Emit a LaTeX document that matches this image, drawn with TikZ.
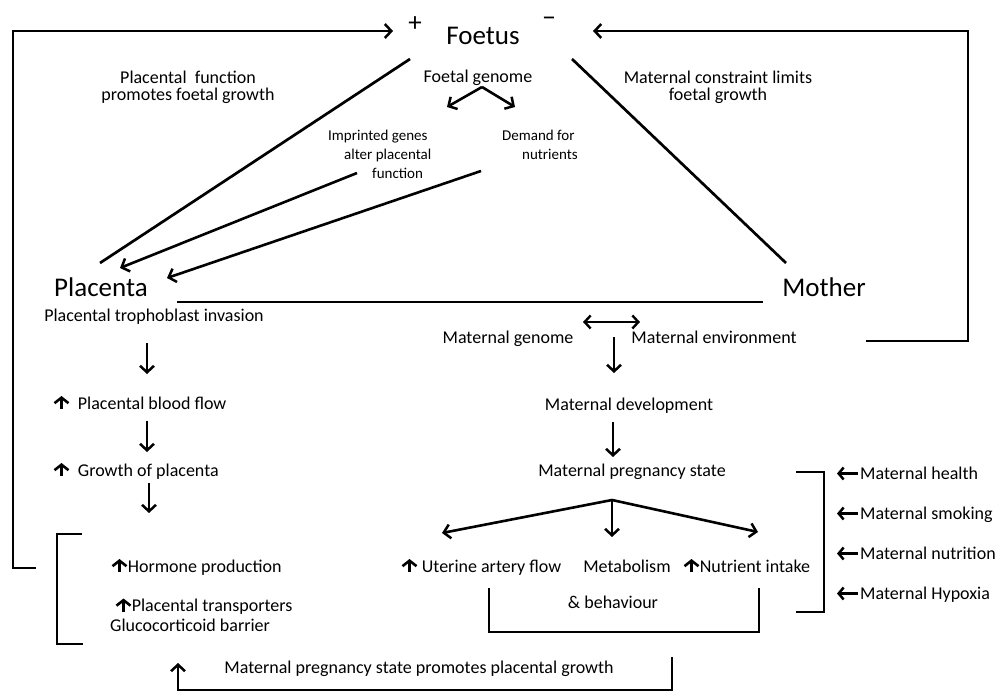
\documentclass[tikz,border=0pt]{standalone}
\usepackage{fontspec}
\setmainfont{Carlito}
\usetikzlibrary{arrows.meta,calc}
\newcommand{\upicon}{\tikz[x=1pt,y=1pt,baseline=0pt]\draw[line width=2.6pt,-{Straight Barb[length=5.5pt,width=14pt,line width=2.6pt]}](0,0)--(0,13);}
\begin{document}
\begin{tikzpicture}[x=1pt,y=-1pt,
  big/.style={font=\fontsize{27}{30}\selectfont, inner sep=0pt},
  med/.style={font=\fontsize{18}{17}\selectfont, inner sep=0pt, align=center},
  sml/.style={font=\fontsize{15}{19}\selectfont, inner sep=0pt, align=left},
  conn/.style={line width=2.7pt},
  arr/.style={line width=2.6pt,-{Straight Barb[length=6.5pt,width=14pt,line width=2.5pt]}},
  darr/.style={line width=2.4pt,{Straight Barb[length=6pt,width=13pt,line width=2.4pt]}-{Straight Barb[length=6pt,width=13pt,line width=2.4pt]}}
]
\useasboundingbox (0,0) rectangle (1000,692);
\fill[white] (0,0) rectangle (1000,692);

% main nodes
\node[big, anchor=base] (foetus) at (483,45) {Foetus};
\node[big] (plus) at (415,24) {+};
\node[big] (minus) at (549,22) {\textminus};
\node[big, anchor=base] (placenta) at (101,296) {Placenta};
\node[big, anchor=base] (mother) at (824,297) {Mother};

% labels top
\node[med] (pff) at (188,87) {Placental\ \ function\\promotes foetal growth};
\node[med] (mcl) at (718,87) {Maternal constraint limits\\foetal growth};
\node[med, anchor=base] (fg) at (478,83) {Foetal genome};
\node[sml, anchor=north west] (imp) at (328,130) {Imprinted genes\\\hspace*{16pt}alter placental\\\hspace*{44pt}function};
\node[sml, anchor=north west] (dem) at (502,130) {Demand for\\\hspace*{20pt}nutrients};

% placenta side
\node[med, anchor=base] (pti) at (154,321) {Placental trophoblast invasion};
\node[med, anchor=base west] (pbf) at (53,409) {\upicon\ \ Placental blood flow};
\node[med, anchor=base west] (gop) at (53,476) {\upicon\ \ Growth of placenta};
\node[med, anchor=base west] (hp) at (111,572) {\upicon Hormone production};
\node[med, anchor=north west, align=left, font=\fontsize{18}{20}\selectfont] (ptr) at (110,597) {\hspace*{5pt}\upicon Placental transporters\\Glucocorticoid barrier};

% mother side
\node[med, anchor=base] (mg) at (508,343) {Maternal genome};
\node[med, anchor=base] (me) at (714,343) {Maternal environment};
\node[med, anchor=base] (md) at (629,410) {Maternal development};
\node[med, anchor=base] (mps) at (632,476) {Maternal pregnancy state};
\node[med, anchor=base west] (uaf) at (401,572) {\upicon\ Uterine artery flow};
\node[med, anchor=base] (met) at (627,572) {Metabolism};
\node[med, anchor=base west] (ni) at (683,572) {\upicon Nutrient intake};
\node[med, anchor=base] (beh) at (613,608) {\&\ behaviour};

\node[med, anchor=base west] (fh) at (860,479) {Maternal health};
\node[med, anchor=base west] (fs) at (860,519) {Maternal smoking};
\node[med, anchor=base west] (fn) at (860,559) {Maternal nutrition};
\node[med, anchor=base west] (fx) at (860,599) {Maternal Hypoxia};

\node[med, anchor=base] (bot) at (419,673) {Maternal pregnancy state promotes placental growth};

% coordinates
\coordinate (lb1) at (36,568);
\coordinate (lc1) at (13,568);
\coordinate (lc2) at (13,31);
\coordinate (lt) at (393,31);
\coordinate (rb1) at (866,341);
\coordinate (rc1) at (968,341);
\coordinate (rc2) at (968,31);
\coordinate (rt) at (593,31);
\coordinate (fpl1) at (410,59);
\coordinate (fpl2) at (100,263);
\coordinate (fmo1) at (572,59);
\coordinate (fmo2) at (786,263);
\coordinate (pm1) at (177,302);
\coordinate (pm2) at (763,302);
\coordinate (fgapex) at (482,87);
\coordinate (fgl) at (447,107);
\coordinate (fgr) at (515,107);
\coordinate (imps) at (357,173);
\coordinate (impt) at (120,268);
\coordinate (dems) at (481,171);
\coordinate (demt) at (167,278);

% feedback loops
\draw[arr] (lb1) -- (lc1) -- (lc2) -- (lt);
\draw[arr] (rb1) -- (rc1) -- (rc2) -- (rt);

% triangle
\draw[conn] (fpl1) -- (fpl2);
\draw[conn] (fmo1) -- (fmo2);
\draw[conn] (pm1) -- (pm2);

% foetal genome branches
\draw[arr] (fgapex) -- (fgl);
\draw[arr] (fgapex) -- (fgr);
\draw[arr] (imps) -- (impt);
\draw[arr] (dems) -- (demt);

% placenta chain
\draw[arr] (147,343) -- (147,374);
\draw[arr] (147,421) -- (147,452);
\draw[arr] (149,483) -- (149,513);
\draw[conn] (82,534) -- (57,534) -- (57,644) -- (83,644);

% mother chain
\draw[darr] (583,322) -- (640,322);
\draw[arr] (614,337) -- (614,373);
\draw[arr] (613,422) -- (613,457);
\coordinate (mapex) at (612,500);
\draw[arr] (mapex) -- (442,533);
\draw[arr] (mapex) -- (612,537);
\draw[arr] (mapex) -- (758,532);
\draw[conn] (489,588) -- (489,632) -- (759,632) -- (759,588);
\draw[conn] (796,472) -- (824,472) -- (824,612) -- (796,612);

% factor arrows
\foreach \n in {fh,fs,fn,fx}{
  \draw[line width=2.6pt,-{Straight Barb[length=5pt,width=12pt,line width=2.5pt]}] ($(\n.base west)+(-2,-5.5)$) -- ($(\n.base west)+(-23,-5.5)$);
}

% bottom
\draw[arr] (672,657) -- (672,690) -- (178,690) -- (178,663);
\end{tikzpicture}
\end{document}
